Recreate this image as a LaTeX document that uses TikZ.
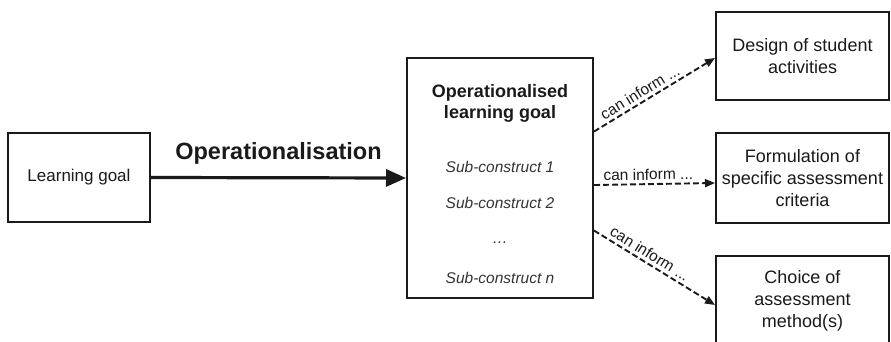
\documentclass[tikz,border=0pt]{standalone}
\usepackage{fontspec}
\setmainfont{Liberation Sans}
\usetikzlibrary{arrows.meta,calc}

\definecolor{ink}{HTML}{1A1A1A}
\definecolor{subink}{HTML}{333333}

\tikzset{
  box/.style={draw=ink, line width=2pt, fill=white, inner sep=0pt,
              align=center, text=ink, font=\fontsize{18}{22}\selectfont},
  mainarrow/.style={draw=ink, line width=3.2pt,
                    -{Triangle[length=20pt,width=17pt]}},
  informarrow/.style={draw=ink, line width=1.9pt, dash pattern=on 6pt off 3pt,
                      -{Triangle[length=10pt,width=8pt]}},
  informlabel/.style={font=\fontsize{15.5}{18}\selectfont, text=ink,
                      sloped, above, inner sep=3pt},
  subitem/.style={font=\fontsize{15.5}{18}\selectfont\itshape, text=subink},
}

\begin{document}
\begin{tikzpicture}[x=1pt,y=-1pt]
\useasboundingbox (0,0) rectangle (891,342);

% source and operationalised goal
\node[box, font=\fontsize{17}{21}\selectfont, minimum width=142pt, minimum height=89pt]
  (goal) at (79,177.5) {Learning goal};
\node[box, minimum width=186pt, minimum height=240pt] (opgoal) at (500,178) {};

\node[font=\fontsize{18}{21}\selectfont\bfseries, text=ink, align=center] (optitle) at (500,103)
  {Operationalised\\learning goal};
\node[subitem] (sub1) at (500,167) {Sub-construct 1};
\node[subitem] (sub2) at (500,203) {Sub-construct 2};
\node[subitem] (subdots) at (500,243) {\dots};
\node[subitem] (subn) at (500,278) {Sub-construct n};

% outcomes
\node[box, minimum width=173pt, minimum height=88pt] (design) at (802.5,56)
  {Design of student\\activities};
\node[box, minimum width=173pt, minimum height=90pt] (criteria) at (802.5,178)
  {Formulation of\\specific assessment\\criteria};
\node[box, minimum width=173pt, minimum height=90pt] (method) at (802.5,301)
  {Choice of\\assessment\\method(s)};

% operationalisation step
\draw[mainarrow] (goal.east) -- node[above=8pt, font=\fontsize{23.5}{26}\selectfont\bfseries, text=ink]
  (oplabel) {Operationalisation} (opgoal.west);

% "can inform" links
\coordinate (o1) at ($(opgoal.north east)!0.308!(opgoal.south east)$);
\coordinate (o2) at ($(opgoal.north east)!0.529!(opgoal.south east)$);
\coordinate (o3) at ($(opgoal.north east)!0.717!(opgoal.south east)$);
\draw[informarrow] (o1) -- node[informlabel, pos=0.42] (l1) {can inform ...} ($(design.west)+(0,2)$);
\draw[informarrow] (o2) -- node[informlabel, pos=0.45] (l2) {can inform ...} ($(criteria.west)+(0,5)$);
\draw[informarrow] (o3) -- node[informlabel, pos=0.42] (l3) {can inform ...} ($(method.west)+(0,4)$);
\end{tikzpicture}
\end{document}
